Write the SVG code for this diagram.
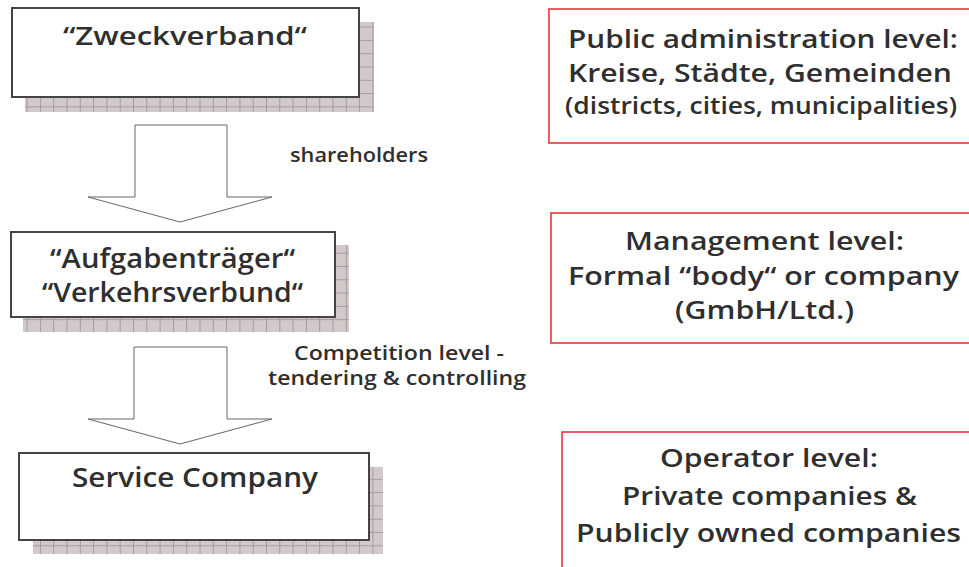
<svg xmlns="http://www.w3.org/2000/svg" width="969" height="567" viewBox="0 0 969 567">
<style>
.t{font-family:"Open Sans","Noto Sans","DejaVu Sans",sans-serif;font-weight:600;fill:#2f2f2f;text-anchor:middle}
.box{fill:#fff;stroke:#444;stroke-width:2}
.sh{fill:url(#grid)}
.lvl{fill:none;stroke:#e8363c;stroke-width:1.6}
.arr{fill:#fff;stroke:#666;stroke-width:1}
</style>
<defs>
<pattern id="grid" patternUnits="userSpaceOnUse" width="13.3" height="13.3">
<rect width="13.3" height="13.3" fill="#d2caca"/>
<path d="M0 0.5H13.3M0.5 0V13.3" stroke="#a8999c" stroke-width="1"/>
</pattern>
</defs>
<g id="zweckverband">
<rect class="sh" x="25" y="22" width="349" height="90"/>
<rect class="box" x="12" y="8" width="347" height="89"/>
<text class="t" x="185" y="45" font-size="26" textLength="244" lengthAdjust="spacingAndGlyphs">“Zweckverband“</text>
</g>
<g id="aufgabentraeger">
<rect class="sh" x="23" y="245" width="326" height="87"/>
<rect class="box" x="11" y="232" width="324" height="85"/>
<text class="t" x="172.5" y="268" font-size="27" textLength="245" lengthAdjust="spacingAndGlyphs">“Aufgabenträger“</text>
<text class="t" x="172.5" y="302" font-size="27" textLength="261" lengthAdjust="spacingAndGlyphs">“Verkehrsverbund“</text>
</g>
<g id="service">
<rect class="sh" x="33" y="467" width="350" height="87"/>
<rect class="box" x="19" y="453" width="350" height="87"/>
<text class="t" x="195" y="487" font-size="27" textLength="246" lengthAdjust="spacingAndGlyphs">Service Company</text>
</g>
<g id="connectors">
<polygon class="arr" points="135,125 227,125 227,197 272,197 180,222 88,197 135,197"/>
<polygon class="arr" points="134,347 227,347 227,419 272,419 180,444 88,419 134,419"/>
<text class="t" x="359" y="162" font-size="19" textLength="138" lengthAdjust="spacingAndGlyphs">shareholders</text>
<text class="t" x="399" y="360" font-size="19" textLength="210" lengthAdjust="spacingAndGlyphs">Competition level -</text>
<text class="t" x="397" y="385" font-size="19" textLength="258" lengthAdjust="spacingAndGlyphs">tendering &amp; controlling</text>
</g>
<g id="public">
<rect class="lvl" x="549" y="9" width="430" height="134"/>
<text class="t" x="763" y="48" font-size="25" textLength="390" lengthAdjust="spacingAndGlyphs">Public administration level:</text>
<text class="t" x="760" y="82" font-size="26" textLength="384" lengthAdjust="spacingAndGlyphs">Kreise, Städte, Gemeinden</text>
<text class="t" x="761" y="114" font-size="23.5" textLength="392" lengthAdjust="spacingAndGlyphs">(districts, cities, municipalities)</text>
</g>
<g id="management">
<rect class="lvl" x="551" y="213" width="430" height="130"/>
<text class="t" x="764.5" y="250" font-size="26" textLength="279" lengthAdjust="spacingAndGlyphs">Management level:</text>
<text class="t" x="763.5" y="285" font-size="26" textLength="391" lengthAdjust="spacingAndGlyphs">Formal “body“ or company</text>
<text class="t" x="764.5" y="319" font-size="26" textLength="179" lengthAdjust="spacingAndGlyphs">(GmbH/Ltd.)</text>
</g>
<g id="operator">
<rect class="lvl" x="562" y="432" width="430" height="150"/>
<text class="t" x="769" y="467" font-size="26" textLength="218" lengthAdjust="spacingAndGlyphs">Operator level:</text>
<text class="t" x="769.5" y="505" font-size="26" textLength="295" lengthAdjust="spacingAndGlyphs">Private companies &amp;</text>
<text class="t" x="768.5" y="542" font-size="26" textLength="385" lengthAdjust="spacingAndGlyphs">Publicly owned companies</text>
</g>
</svg>
